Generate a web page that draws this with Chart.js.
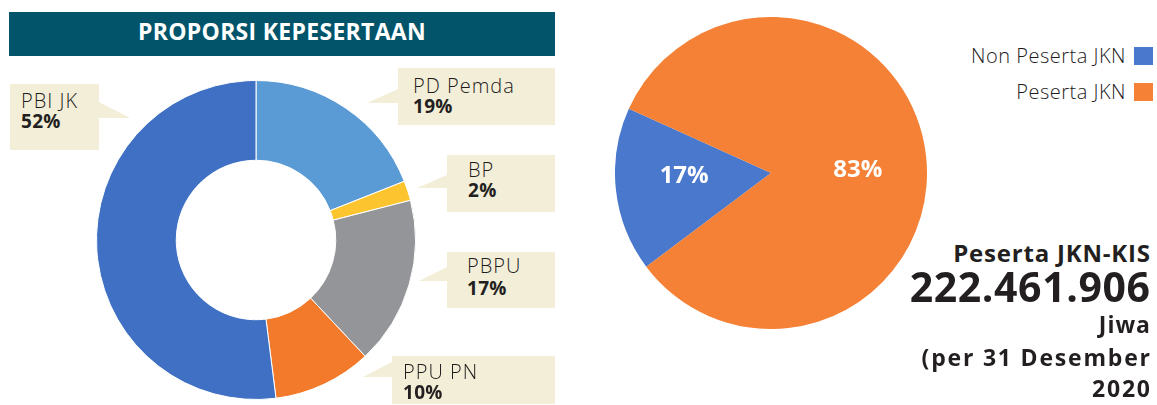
<!DOCTYPE html>
<html>
<head>
<meta charset="utf-8">
<script src="https://cdn.jsdelivr.net/npm/chart.js@4.4.1/dist/chart.umd.min.js"></script>
<style>
  html, body { margin: 0; padding: 0; background: #ffffff; }
  body { width: 1157px; height: 405px; position: relative; overflow: hidden; font-family: "Open Sans", "Lato", sans-serif; color: #231f20; }
  .abs { position: absolute; }
  #header { left: 9px; top: 12px; width: 546px; height: 44px; background: #02546a; color: #fff; font-weight: 700; font-size: 23px; line-height: 38px; text-align: center; letter-spacing: 0.3px; }
  .cbox { position: absolute; background: #f2eed8; box-sizing: border-box; }
  .cbox .n { font-size: 20px; font-weight: 300; line-height: 20px; white-space: nowrap; letter-spacing: 1px; color: #1e1b1c; }
  .cbox .v { font-size: 19px; font-weight: 700; line-height: 20px; white-space: nowrap; letter-spacing: 0.3px; }
  .tri { position: absolute; background: #f2eed8; }
  .lg { position: absolute; right: 31px; height: 18px; line-height: 18px; font-size: 20px; font-weight: 300; color: #1e1b1c; letter-spacing: 0.5px; white-space: nowrap; }
  .sw { position: absolute; left: 1134px; width: 19px; height: 18px; }
  .tl { position: absolute; right: 7px; text-align: right; font-weight: 700; color: #231f20; white-space: nowrap; }
</style>
</head>
<body>
<div id="header" class="abs">PROPORSI KEPESERTAAN</div>
<canvas id="donut" class="abs" width="320" height="320" style="left:96px;top:80px;width:320px;height:320px;"></canvas>
<canvas id="pie" class="abs" width="312" height="312" style="left:615px;top:17px;width:312px;height:312px;"></canvas>
<div id="callouts"></div>
<div id="legend"></div>
<div id="total"></div>
<script>
// ---- Data ----
const segmentLabels = ["PD Pemda", "BP", "PBPU", "PPU PN", "PBI JK"];
const segmentValues = [19, 2, 17, 10, 52];
const segmentColors = ["#5b9bd5", "#fcc52f", "#939598", "#f27a2a", "#4070c4"];

const pieLabels = ["Non Peserta JKN", "Peserta JKN"];
const pieValues = [17, 83];
const pieColors = ["#4a78cc", "#f48135"];

const totalTitle = "Peserta JKN-KIS";
const totalNumber = "222.461.906";
const totalUnit = "Jiwa";
const totalDateLines = ["(per 31 Desember", "2020"];

// ---- Callout layout (style only): box rect, text inset, pointer triangle ----
const calloutLayout = {
  "PBI JK":   { box: [10, 84, 89, 66],   pad: [7, 11], gap: 20, tri: [[99,102],[130,118],[99,118]] },
  "PD Pemda": { box: [398, 68, 157, 57], pad: [8, 15], gap: 20, tri: [[398,89],[367,103],[398,103]] },
  "BP":       { box: [447, 155, 108, 57], pad: [5, 21], gap: 20, tri: [[447,175],[417,188],[447,188]] },
  "PBPU":     { box: [447, 252, 108, 56], pad: [4, 20], gap: 22, tri: [[447,267],[419,281],[447,281]] },
  "PPU PN":   { box: [392, 356, 163, 48], pad: [6, 11], gap: 20, tri: [[392,362],[363,377],[392,377]] }
};

const calloutsEl = document.getElementById('callouts');
segmentLabels.forEach((lab, i) => {
  const L = calloutLayout[lab];
  const xs = L.tri.map(p => p[0]), ys = L.tri.map(p => p[1]);
  const minX = Math.min(...xs), minY = Math.min(...ys), maxX = Math.max(...xs), maxY = Math.max(...ys);
  const tri = document.createElement('div');
  tri.className = 'tri';
  tri.style.left = minX + 'px'; tri.style.top = minY + 'px';
  tri.style.width = (maxX - minX + 1) + 'px'; tri.style.height = (maxY - minY) + 'px';
  tri.style.clipPath = 'polygon(' + L.tri.map(p => (p[0]-minX) + 'px ' + (p[1]-minY) + 'px').join(',') + ')';
  calloutsEl.appendChild(tri);
  const box = document.createElement('div');
  box.className = 'cbox';
  box.style.left = L.box[0] + 'px'; box.style.top = L.box[1] + 'px';
  box.style.width = L.box[2] + 'px'; box.style.height = L.box[3] + 'px';
  box.style.paddingTop = L.pad[0] + 'px'; box.style.paddingLeft = L.pad[1] + 'px';
  box.innerHTML = '<div class="n" style="height:' + L.gap + 'px">' + lab + '</div><div class="v">' + segmentValues[i] + '%</div>';
  calloutsEl.appendChild(box);
});

// legend (rows: square top positions)
const legendRowsTop = [47, 83];
const legendEl = document.getElementById('legend');
pieLabels.forEach((lab, i) => {
  const t = document.createElement('div');
  t.className = 'lg';
  t.style.top = legendRowsTop[i] + 'px';
  t.textContent = lab;
  legendEl.appendChild(t);
  const s = document.createElement('div');
  s.className = 'sw';
  s.style.top = legendRowsTop[i] + 'px';
  s.style.background = pieColors[i];
  legendEl.appendChild(s);
});

// total block: [text, fontSize, baselineY, letterSpacing]
const totalLines = [
  [totalTitle, 24, 262, 0.8],
  [totalNumber, 41, 302, 0.6],
  [totalUnit, 23, 333, 1.0],
  [totalDateLines[0], 23, 366, 1.8],
  [totalDateLines[1], 23, 397, 1.8]
];
const totalEl = document.getElementById('total');
totalLines.forEach(([txt, fs, base, ls]) => {
  const d = document.createElement('div');
  d.className = 'tl';
  d.textContent = txt;
  d.style.fontSize = fs + 'px';
  d.style.lineHeight = fs + 'px';
  d.style.letterSpacing = ls + 'px';
  d.style.marginRight = (-ls) + 'px';
  d.style.top = (base - fs * 0.888) + 'px';
  totalEl.appendChild(d);
});

// ---- Charts ----
const common = {
  responsive: false,
  animation: false,
  layout: { padding: 0 },
  plugins: { legend: { display: false }, tooltip: { enabled: false } }
};

new Chart(document.getElementById('donut'), {
  type: 'doughnut',
  data: {
    labels: segmentLabels,
    datasets: [{ data: segmentValues, backgroundColor: segmentColors, borderColor: '#ffffff', borderWidth: 1 }]
  },
  options: Object.assign({}, common, { cutout: '50%', rotation: 0 })
});

const pieLabelPlugin = {
  id: 'pieLabels',
  afterDatasetsDraw(chart) {
    const ctx = chart.ctx;
    const meta = chart.getDatasetMeta(0);
    ctx.save();
    ctx.fillStyle = '#ffffff';
    ctx.font = '700 24px "Open Sans", sans-serif';
    ctx.textAlign = 'center';
    ctx.textBaseline = 'middle';
    meta.data.forEach((arc, i) => {
      const p = arc.getProps(['x', 'y', 'startAngle', 'endAngle', 'outerRadius']);
      const mid = (p.startAngle + p.endAngle) / 2;
      const r = p.outerRadius * 0.56;
      ctx.fillText(pieValues[i] + '%', p.x + Math.cos(mid) * r, p.y + Math.sin(mid) * r * 0.3);
    });
    ctx.restore();
  }
};

new Chart(document.getElementById('pie'), {
  type: 'pie',
  data: {
    labels: pieLabels,
    datasets: [{ data: pieValues, backgroundColor: pieColors, borderWidth: 0 }]
  },
  options: Object.assign({}, common, { rotation: 233.1 }),
  plugins: [pieLabelPlugin]
});
</script>
</body>
</html>
